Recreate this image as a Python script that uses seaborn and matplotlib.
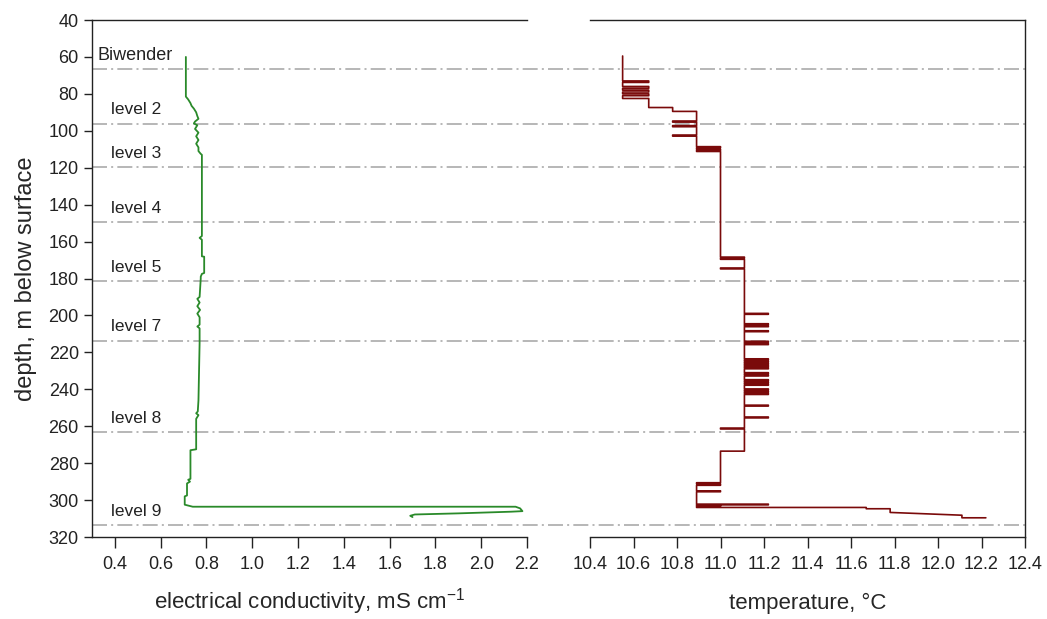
import pandas as pd
import seaborn as sns
import matplotlib.pyplot as plt

# electrical conductivity profile (depth in m, EC in mS/cm)
ec_depth = [60, 81.5, 83, 85, 86.5, 88, 90, 92, 93.5, 95, 96, 97, 99, 101, 103, 105, 107, 109, 111, 112.5, 113,
            150, 157, 158, 159, 168, 168.2, 177, 177.5, 179, 180, 190, 191, 193, 195, 197, 199, 201, 205, 206, 207,
            215, 246, 252, 253, 254, 256, 262, 272.5, 273, 288.5, 289, 290, 291, 297.5, 298, 302.5, 303.6, 303.6,
            304.5, 306, 306.3, 307.2, 307.8, 308.5, 309.2]
ec_value = [0.71, 0.71, 0.72, 0.73, 0.735, 0.745, 0.755, 0.76, 0.765, 0.75, 0.745, 0.76, 0.75, 0.765, 0.755, 0.765, 0.755, 0.765, 0.765, 0.775, 0.78,
            0.78, 0.78, 0.77, 0.78, 0.78, 0.79, 0.79, 0.78, 0.775, 0.775, 0.77, 0.76, 0.77, 0.76, 0.772, 0.76, 0.77, 0.77, 0.76, 0.77,
            0.77, 0.765, 0.762, 0.755, 0.765, 0.755, 0.755, 0.755, 0.73, 0.73, 0.72, 0.728, 0.715, 0.715, 0.705, 0.705, 0.74, 2.15,
            2.17, 2.18, 2.13, 1.9, 1.71, 1.69, 1.70]

# temperature profile (depth in m, temperature in degC)
t_depth = [59.5, 73, 73, 73.8, 73.8, 76, 76, 77, 77, 78, 78, 79, 79, 80, 80, 81, 81, 82.5, 82.5, 87.4, 87.4, 89.5, 89.5,
           94.7, 94.7, 95.3, 95.3, 97.2, 97.2, 97.8, 97.8, 102.3, 102.3, 102.9, 102.9, 108.6, 108.6, 109.2, 109.2, 110, 110,
           110.6, 110.6, 111.2, 111.2, 168.4, 168.4, 169, 169, 169.6, 169.6, 174.3, 174.3, 174.8, 174.8,
           198.9, 198.9, 199.4, 199.4, 204.5, 204.5, 205, 205, 205.6, 205.6, 206.1, 206.1, 208.3, 208.3, 208.8, 208.8,
           214, 214, 214.5, 214.5, 215.3, 215.3, 215.8, 215.8,
           223.5, 223.5, 224.1, 224.1, 224.7, 224.7, 225.3, 225.3, 225.9, 225.9, 226.5, 226.5, 227.1, 227.1, 227.7, 227.7,
           228.3, 228.3, 228.9, 228.9, 231, 231, 231.6, 231.6, 232.2, 232.2, 232.8, 232.8,
           234.8, 234.8, 235.4, 235.4, 236, 236, 236.6, 236.6, 237.2, 237.2, 237.8, 237.8,
           239.8, 239.8, 240.4, 240.4, 241, 241, 241.6, 241.6, 242.2, 242.2, 242.8, 242.8,
           248.6, 248.6, 249.1, 249.1, 255, 255, 255.5, 255.5, 261, 261, 261.5, 261.5, 273.5, 273.5,
           290.6, 290.6, 291.3, 291.3, 292, 292, 295, 295, 295.5, 295.5,
           302.2, 302.2, 302.6, 302.6, 303, 303, 303.4, 303.4, 304, 304, 304.7, 304.7, 306.7, 308.2, 309.6, 309.6]
t_value = [10.55, 10.55, 10.67, 10.67, 10.55, 10.55, 10.67, 10.67, 10.55, 10.55, 10.67, 10.67, 10.55, 10.55, 10.67, 10.67, 10.55, 10.55, 10.67, 10.67, 10.78, 10.78, 10.89,
           10.89, 10.78, 10.78, 10.89, 10.89, 10.78, 10.78, 10.89, 10.89, 10.78, 10.78, 10.89, 10.89, 11.0, 11.0, 10.89, 10.89, 11.0,
           11.0, 10.89, 10.89, 11.0, 11.0, 11.11, 11.11, 11.0, 11.0, 11.11, 11.11, 11.0, 11.0, 11.11,
           11.11, 11.22, 11.22, 11.11, 11.11, 11.22, 11.22, 11.11, 11.11, 11.22, 11.22, 11.11, 11.11, 11.22, 11.22, 11.11,
           11.11, 11.22, 11.22, 11.11, 11.11, 11.22, 11.22, 11.11,
           11.11, 11.22, 11.22, 11.11, 11.11, 11.22, 11.22, 11.11, 11.11, 11.22, 11.22, 11.11, 11.11, 11.22, 11.22, 11.11,
           11.11, 11.22, 11.22, 11.11, 11.11, 11.22, 11.22, 11.11, 11.11, 11.22, 11.22, 11.11,
           11.11, 11.22, 11.22, 11.11, 11.11, 11.22, 11.22, 11.11, 11.11, 11.22, 11.22, 11.11,
           11.11, 11.22, 11.22, 11.11, 11.11, 11.22, 11.22, 11.11, 11.11, 11.22, 11.22, 11.11,
           11.11, 11.22, 11.22, 11.11, 11.11, 11.22, 11.22, 11.11, 11.11, 11.0, 11.0, 11.11, 11.11, 11.0,
           11.0, 10.89, 10.89, 11.0, 11.0, 10.89, 10.89, 11.0, 11.0, 10.89,
           10.89, 11.22, 11.22, 10.89, 10.89, 11.0, 11.0, 10.89, 10.89, 11.67, 11.67, 11.78, 11.78, 12.11, 12.11, 12.22]

# monitoring levels
level_names = ['Biwender', 'level 2', 'level 3', 'level 4', 'level 5', 'level 7', 'level 8', 'level 9']
level_depth = [66.7, 96.5, 119.5, 149.6, 181.3, 213.8, 263.3, 313.5]
label_depth = [59, 88.5, 112.5, 142, 174, 206, 256, 306]

ec = pd.DataFrame({'depth': ec_depth, 'ec': ec_value})
temp = pd.DataFrame({'depth': t_depth, 't': t_value})

sns.set_style("ticks")
plt.rcParams['font.family'] = ['Liberation Sans', 'DejaVu Sans']

fig = plt.figure(figsize=(10.47, 6.19), dpi=100)
ax1 = fig.add_axes([92/1047, 1-537/619, 435/1047, 517/619])
ax2 = fig.add_axes([590/1047, 1-537/619, 435/1047, 517/619])
ax2.patch.set_visible(False)

sns.lineplot(data=ec, x='ec', y='depth', sort=False, estimator=None, color='#2a8a2a', linewidth=1.3, ax=ax1)
sns.lineplot(data=temp, x='t', y='depth', sort=False, estimator=None, color='#7a0a0a', linewidth=1.2, ax=ax2)

for ax in (ax1, ax2):
    ax.set_ylim(320, 40)
    ax.tick_params(axis='both', labelsize=13, colors='#222222', length=6, width=1)
    ax.tick_params(axis='x', length=8, pad=6)
    for s in ax.spines.values():
        s.set_color('#222222')
        s.set_linewidth(1)

ax1.set_xlim(0.3, 2.2)
ax1.set_xticks([0.4, 0.6, 0.8, 1.0, 1.2, 1.4, 1.6, 1.8, 2.0, 2.2])
ax1.set_yticks(range(40, 321, 20))
ax1.spines['top'].set_visible(True)
ax1.spines['right'].set_visible(False)
ax1.set_xlabel('electrical conductivity, mS cm$^{\\mathregular{-1}}$', fontsize=16, labelpad=9)
ax1.set_ylabel('depth, m below surface', fontsize=17, labelpad=8)

ax2.set_xlim(10.4, 12.4)
ax2.set_xticks([10.4, 10.6, 10.8, 11.0, 11.2, 11.4, 11.6, 11.8, 12.0, 12.2, 12.4])
ax2.set_yticks([])
ax2.spines['left'].set_visible(False)
ax2.spines['top'].set_visible(True)
ax2.spines['right'].set_visible(True)
ax2.set_xlabel('temperature, °C', fontsize=16, labelpad=14)
ax2.set_ylabel('')

# dash-dot level lines running across both panels
span = (1025 - 92) / 435
for d in level_depth:
    ax1.plot([0, span], [d, d], transform=ax1.get_yaxis_transform(), color='#aaaaaa',
             linewidth=1.2, dashes=(9, 2.5, 1.2, 2.5), clip_on=False, zorder=1)

for i, (name, d) in enumerate(zip(level_names, label_depth)):
    x = 0.322 if i == 0 else 0.381
    ax1.text(x, d, name, fontsize=13 if i == 0 else 12.5, color='#222222', va='center', ha='left')

fig.savefig('out.png', dpi=100)
